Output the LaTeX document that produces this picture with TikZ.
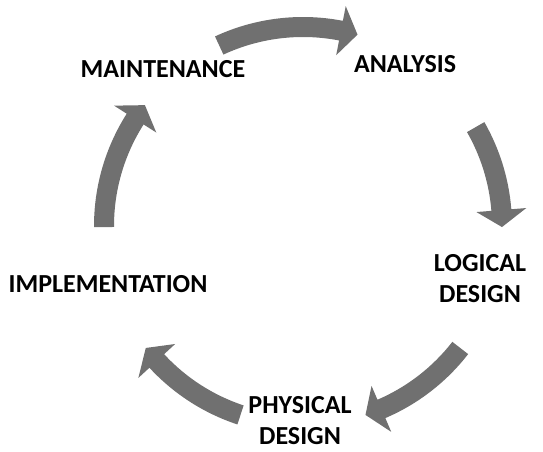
\documentclass[tikz,border=0pt]{standalone}
\usepackage{fontspec}
\setmainfont{Carlito}
\usepackage{xcolor}
\usepackage{tikz}
\usetikzlibrary{positioning}

\definecolor{arrowgray}{RGB}{112,112,112}

\begin{document}
\begin{tikzpicture}[
            x=1pt, y=1pt,
            phase/.style={font=\fontsize{26}{31}\selectfont\bfseries, align=center, inner sep=0pt},
            cyclearrow/.style={fill=arrowgray}
        ]

        \useasboundingbox (0,0) rectangle (543,451);
        \coordinate (hub) at (303,225);

        % Phases of the cycle
        \node [phase] (maintenance) at (163,382) {MAINTENANCE};
        \node [phase] (analysis) at (405,387) {ANALYSIS};
        \node [phase] (logical) at (480,172) {LOGICAL\\DESIGN};
        \node [phase] (physical) at (300,30) {PHYSICAL\\DESIGN};
        \node [phase] (implementation) at (108,167) {IMPLEMENTATION};

        % Curved arrows round the hub (tail angle / tip angle)
        \foreach \from/\to in {114.9/74.1, 29.8/-0.3, -37.8/-71.7, -108.3/-142.2, 180.3/142.6} {
            \pgfmathsetmacro{\back}{\to+4.9}
            \fill [cyclearrow, shift={(hub)}] (\from:209pt) arc [start angle=\from, end angle=\back, radius=209pt]
                -- (\back:224pt) -- (\to:199pt) -- (\back:174pt) -- (\back:189pt)
                arc [start angle=\back, end angle=\from, radius=189pt] -- cycle;
        }

    \end{tikzpicture}
\end{document}
